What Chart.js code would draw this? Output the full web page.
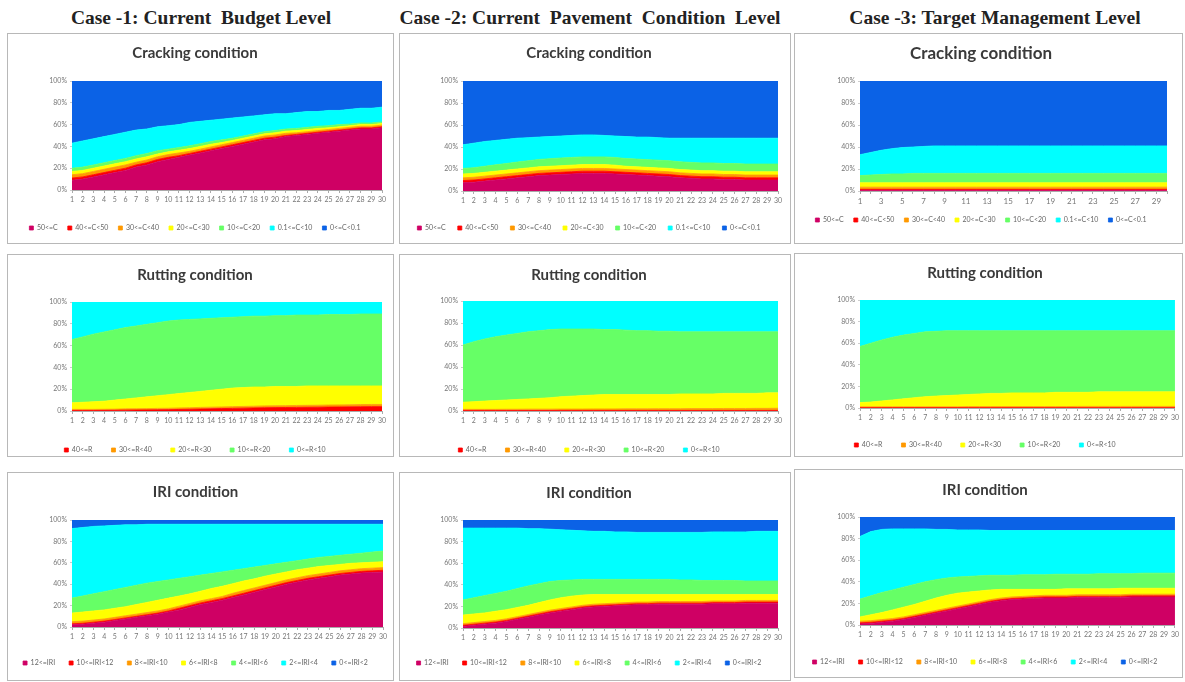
<!DOCTYPE html>
<html>
<head>
<meta charset="utf-8">
<script src="https://cdn.jsdelivr.net/npm/chart.js@4.4.1/dist/chart.umd.min.js"></script>
<style>
  body { margin: 0; width: 1185px; height: 682px; background: #fff; position: relative; overflow: hidden; }
  .head { position: absolute; top: 7px; line-height: 22px; font: bold 19.5px "Liberation Serif", "Times New Roman", serif; color: #222; white-space: pre; transform: translateX(-50%); }
  .panel { position: absolute; border: 1px solid #b8b8b8; box-sizing: border-box; }
  canvas { position: absolute; }
</style>
</head>
<body>
<div class="head" style="left:201px">Case -1: Current  Budget Level</div>
<div class="head" style="left:590px">Case -2: Current  Pavement  Condition  Level</div>
<div class="head" style="left:995px">Case -3: Target Management Level</div>
<script>
// x axis: year of analysis
const years = ['1','2','3','4','5','6','7','8','9','10','11','12','13','14','15','16','17','18','19','20','21','22','23','24','25','26','27','28','29','30'];

const crackNames = ['50<=C', '40<=C<50', '30<=C<40', '20<=C<30', '10<=C<20', '0.1<=C<10', '0<=C<0.1'];
const rutNames = ['40<=R', '30<=R<40', '20<=R<30', '10<=R<20', '0<=R<10'];
const iriNames = ['12<=IRI', '10<=IRI<12', '8<=IRI<10', '6<=IRI<8', '4<=IRI<6', '2<=IRI<4', '0<=IRI<2'];

// share of network (%) in each class, bottom class first
const crackCase1 = [
  [9,10,12,14,16,18,21,23,26,28,30,32,34,36,38,40,42,44,46,47,49,50,51,52,53,54,55,56,56,57],
  [2,2,2,2,2,2,2,2,2,2,1.5,1.5,1.5,1.5,1.5,1.5,1.5,1.5,1.5,1.5,1,1,1,1,1,1,1,1,1,1],
  [3,3,3,3,3,3,2.5,2.5,2.5,2.5,2.5,2,2,2,2,2,2,2,2,2,2,1.5,1.5,1.5,1.5,1.5,1.5,1.5,1.5,1.5],
  [3,3,3,3,3,3,3,3,2.5,2.5,2.5,2.5,2.5,2.5,2,2,2,2,2,2,2,2,2,2,1.5,1.5,1.5,1.5,1.5,1.5],
  [3,3,3,3,3,3,3,3,3,2.5,2.5,2.5,2.5,2.5,2.5,2,2,2,2,2,2,2,2,2,2,2,1.5,1.5,1.5,1.5],
  [23,24,24,24,24,24,23.5,22.5,22,21.5,21,21.5,20.5,19.5,19,18.5,17.5,16.5,15.5,15.5,14,14.5,14.5,13.5,14,13,13.5,13.5,13.5,13.5],
  [57,55,53,51,49,47,45,44,42,41,40,38,37,36,35,34,33,32,31,30,30,29,28,28,27,27,26,25,25,24]
];
const crackCase2 = [
  [7.5,8,9,10,11,12,13,14,14.5,15,15.5,16,16,16,15.5,15,14.5,14,13.5,13,12,11.5,11,11,10.5,10.5,10,10,10,10],
  [2,2,2,2,2,2,2,2,2,2,2,2,2,2,2,2,2,2,2,2,2,2,2,2,2,2,2,2,2,2],
  [2.5,2.5,2.5,2.5,2.5,2.5,2.5,2.5,2.5,2.5,2.5,2.5,2.5,2.5,2.5,2.5,2.5,2.5,2.5,2.5,2.5,2.5,2.5,2.5,2.5,2.5,2.5,2.5,2.5,2.5],
  [3.5,3.5,3.5,3.5,3.5,3.5,3.5,3.5,3.5,3.5,3.5,3.5,3.5,3.5,3.5,3,3,3,3,3,3,3,3,3,3,3,3,3,3,3],
  [5,5.2,5.5,5.8,6,6.3,6.5,6.7,6.9,7,7,7,7,7,7,7,7,7,7,7,7,7,7,7,7,7,7,7,7,7],
  [21.5,22.3,22.5,22.2,22,21.7,21,20.3,20.1,20,20,20,20,19.5,19.5,20,20,20.5,20.5,20.5,21.5,22,22.5,22.5,23,23,23.5,23.5,23.5,23.5],
  [58,56.5,55,54,53,52,51.5,51,50.5,50,49.5,49,49,49.5,50,50.5,51,51,51.5,52,52,52,52,52,52,52,52,52,52,52]
];
const crackCase3 = [
  [0.5,0.5,0.5,0.5,0.5,0.5,0.5,0.5,0.5,0.5,0.5,0.5,0.5,0.5,0.5,0.5,0.5,0.5,0.5,0.5,0.5,0.5,0.5,0.5,0.5,0.5,0.5,0.5,0.5,0.5],
  [1,1,1,1,1,1,1,1,1,1,1,1,1,1,1,1,1,1,1,1,1,1,1,1,1,1,1,1,1,1],
  [2,2,2,2,2,2,2,2,2,2,2,2,2,2,2,2,2,2,2,2,2,2,2,2,2,2,2,2,2,2],
  [4,4,4,4,4,4,4,4,4,4,4,4,4,4,4,4,4,4,4,4,4,4,4,4,4,4,4,4,4,4],
  [6.5,7,7.5,8,8,8.5,8.5,8.5,8.5,8.5,8.5,8.5,8.5,8.5,8.5,8.5,8.5,8.5,8.5,8.5,8.5,8.5,8.5,8.5,8.5,8.5,8.5,8.5,8.5,8.5],
  [19,20.5,22,23,24,24,24.5,25,25,25,25,25,25,25,25,25,25,25,25,25,25,25,25,25,25,25,25,25,25,25],
  [67,65,63,61.5,60.5,60,59.5,59,59,59,59,59,59,59,59,59,59,59,59,59,59,59,59,59,59,59,59,59,59,59]
];
const rutCase1 = [
  [0.5,0.5,0.5,0.6,0.7,0.8,0.9,1,1.1,1.2,1.4,1.6,1.8,2,2.2,2.4,2.6,2.8,3,3.1,3.2,3.3,3.4,3.5,3.6,3.7,3.8,3.9,4,4],
  [1,1,1,1,1,1.2,1.2,1.2,1.3,1.3,1.4,1.4,1.5,1.5,1.5,1.6,1.6,1.6,1.7,1.7,1.7,1.8,1.8,1.8,1.9,1.9,1.9,2,2,2],
  [6,6.5,7,7.4,8.3,9,9.9,10.8,11.6,12.5,13.2,14,14.7,15.5,16.3,17,17.3,17.6,17.3,17.7,17.6,17.4,17.8,17.7,17.5,17.4,17.3,17.1,17,17],
  [58,60,62,63.5,64.5,65.5,66,66.5,67,67.5,67.5,67,66.5,66,65.5,65,65,65,65,65,65,65.5,65,65,65.5,65.5,65.5,66,66,66],
  [34.5,32,29.5,27.5,25.5,23.5,22,20.5,19,17.5,16.5,16,15.5,15,14.5,14,13.5,13,13,12.5,12.5,12,12,12,11.5,11.5,11.5,11,11,11]
];
const rutCase2 = [
  [0.5,0.5,0.5,0.5,0.5,0.5,0.5,0.5,0.5,0.5,0.5,0.5,0.5,0.5,0.5,0.5,0.5,0.5,0.5,0.5,0.5,0.5,0.5,0.5,0.5,0.5,0.5,0.5,0.5,0.5],
  [1,1,1,1,1.1,1.1,1.2,1.2,1.2,1.3,1.3,1.3,1.4,1.4,1.4,1.5,1.5,1.5,1.6,1.6,1.6,1.7,1.7,1.7,1.8,1.8,1.8,1.9,1.9,2],
  [6.5,7,7.5,8,8.4,8.9,9.3,9.8,10.3,11.2,11.7,12.2,12.6,13.1,13.1,13,13,13,12.9,12.9,13.4,13.3,13.3,13.3,13.7,13.7,13.7,13.6,14.1,14],
  [52,54.5,56.5,58,59,60,61,61.5,62,61.5,61,60.5,60,59,59,58.5,58,58,57.5,57.5,56.5,56.5,56.5,56.5,56,56,56,56,55.5,55.5],
  [40,37,34.5,32.5,31,29.5,28,27,26,25.5,25.5,25.5,25.5,26,26,26.5,27,27,27.5,27.5,28,28,28,28,28,28,28,28,28,28]
];
const rutCase3 = [
  [0.3,0.3,0.3,0.3,0.3,0.3,0.3,0.3,0.3,0.3,0.3,0.3,0.3,0.3,0.3,0.3,0.3,0.3,0.3,0.3,0.3,0.3,0.3,0.3,0.3,0.3,0.3,0.3,0.3,0.3],
  [0.8,0.8,0.8,0.8,0.8,0.8,0.8,0.8,0.8,0.8,1,1,1,1,1,1,1,1,1,1,1.2,1.2,1.2,1.2,1.2,1.2,1.2,1.2,1.2,1.2],
  [3.9,4.4,5.4,6.4,7.4,8.4,9.4,9.9,10.4,10.9,11.2,11.7,12.2,12.2,12.7,12.7,12.7,12.7,13.2,13.2,13,13,13.5,13.5,13.5,13.5,13.5,13.5,13.5,13.5],
  [52,54.5,56.5,58,59,59.5,60,60,60,59.5,59,58.5,58,58,57.5,57.5,57.5,57.5,57,57,57,57,56.5,56.5,56.5,56.5,56.5,56.5,56.5,56.5],
  [43,40,37,34.5,32.5,31,29.5,29,28.5,28.5,28.5,28.5,28.5,28.5,28.5,28.5,28.5,28.5,28.5,28.5,28.5,28.5,28.5,28.5,28.5,28.5,28.5,28.5,28.5,28.5]
];
const iriCase1 = [
  [2,2.5,3.5,4.5,6,7.5,9,10.5,12,14,16,18.5,21,23,25,27.5,30,32.5,35,37.5,40,42,44,45.5,47,48.5,49.5,50.5,51,51.5],
  [1,1,1,1,1,1,1,1,1,1,1.5,1.5,1.5,1.5,1.5,1.5,1.5,1.5,1.5,1.5,1.5,1.5,1.5,1.5,1.5,1.5,1.5,1.5,1.5,1.5],
  [2,2,2,2,2,2,2,2,2,2,2,2,2,2,2,2.5,2.5,2.5,2.5,2.5,2.5,2.5,2.5,2.5,2.5,2.5,2.5,2.5,2.5,2.5],
  [8,8.5,8.5,8.5,8.5,8.5,9,9.5,10,10,9.5,9,9,9.5,9.5,9,9,8.5,8.5,8,7.5,7.5,7,7,6.5,6,6,5.5,5.5,5.5],
  [14,15,16,17,17.5,18,18,18,17.5,17,16.5,16,15,14,13.5,12.5,11.5,11,10,9.5,9,8.5,8.5,8.5,8.5,8.5,8.5,9,9.5,10],
  [65,64,63,61.5,60,58.5,56.5,55,53.5,52,50.5,49,47.5,46,44.5,43,41.5,40,38.5,37,35.5,34,32.5,31,30,29,28,27,26,25],
  [8,7,6,5.5,5,4.5,4.5,4,4,4,4,4,4,4,4,4,4,4,4,4,4,4,4,4,4,4,4,4,4,4]
];
const iriCase2 = [
  [1.5,2.5,3.5,4.5,6,8,10,12,14,15.5,17,18.5,19.5,20,20.5,21,21.5,21.5,22,22,22,22,22,22.5,22.5,22.5,23,23,23,23],
  [1,1,1,1,1,1,1,1,1,1,1,1,1,1,1,1,1,1,1,1,1,1,1,1,1,1,1,1,1,1],
  [1.5,1.5,1.5,1.5,1.5,1.5,1.5,1.5,1.5,1.5,1.5,1.5,1.5,1.5,1.5,1.5,1.5,1.5,1.5,1.5,1.5,1.5,1.5,1.5,1.5,1.5,1.5,1.5,1.5,1.5],
  [8,8,8,8.5,8.5,8.5,8.5,9,9.5,10,10,9.5,9,8.5,8,7.5,7,7,6.5,6.5,6.5,6.5,6.5,6,6,6,5.5,5.5,5.5,5.5],
  [14,15,16,16.5,17,17.5,18,17.5,17,16,15,14.5,14,14,14,14,14,14,14,14,13.5,13.5,13,13,13,13,12.5,12.5,12.5,12.5],
  [66.5,64.5,62.5,60.5,58.5,56,53,51,48.5,47,46,45,44.5,44.5,44,44,43.5,43.5,43.5,43.5,44,44,44.5,45,45,45,45.5,46,46,46],
  [7.5,7.5,7.5,7.5,7.5,7.5,8,8,8.5,9,9.5,10,10.5,10.5,11,11,11.5,11.5,11.5,11.5,11.5,11.5,11.5,11,11,11,11,10.5,10.5,10.5]
];
const iriCase3 = [
  [1,1.5,2.5,3.5,5,7,9,11,13,15,17,19,21,22.5,23.5,24,24.5,25,25,25,25.5,25.5,25.5,25.5,25.5,26,26,26,26,26],
  [1,1,1,1,1,1,1,1,1,1,1,1,1,1,1,1,1,1,1,1,1,1,1,1,1,1,1,1,1,1],
  [1.5,1.5,1.5,1.5,1.5,1.5,1.5,1.5,1.5,1.5,1.5,1.5,1.5,1.5,1.5,1.5,1.5,1.5,1.5,1.5,1.5,1.5,1.5,1.5,1.5,1.5,1.5,1.5,1.5,1.5],
  [4,5.5,6.5,8,9,9.5,10.5,11.5,12,12,11,10,9,8,7,6.5,6,5.5,5.5,6,5.5,5.5,5.5,5.5,6,5.5,5.5,5.5,5.5,5.5],
  [16.5,17.5,18.5,18.5,18.5,18.5,18,17,16,15,14.5,14,13.5,13,13,13.5,13.5,13.5,14,13.5,13.5,13.5,14,14,13.5,13.5,14,14,14,14],
  [58,59.5,58.5,56.5,54,51.5,49,46.5,45,43.5,43,42.5,41.5,41.5,41.5,41,41,41,40.5,40.5,40.5,40.5,40,40,40,40,39.5,39.5,39.5,39.5],
  [18,13.5,11.5,11,11,11,11,11.5,11.5,12,12,12,12.5,12.5,12.5,12.5,12.5,12.5,12.5,12.5,12.5,12.5,12.5,12.5,12.5,12.5,12.5,12.5,12.5,12.5]
];

const sevenColors = ['#cf0064', '#ff0000', '#ff9900', '#ffff00', '#66ff66', '#00ffff', '#0b62e6'];
const fiveColors = ['#ff0000', '#ff9900', '#ffff00', '#66ff66', '#00ffff'];

// excel style 100% stacked area: each year is scaled to its total
function toPercent(series) {
  const totals = years.map((_, i) => series.reduce((s, arr) => s + arr[i], 0));
  return series.map(arr => arr.map((v, i) => v / totals[i] * 100));
}

function makeChart(series, names, colors, title, g) {
  const [pl, pt, pw, ph] = g.panel;
  const box = document.createElement('div');
  box.className = 'panel';
  box.style.cssText = `left:${pl}px;top:${pt}px;width:${pw}px;height:${ph}px`;
  document.body.appendChild(box);

  const cx = pl + 1, cy = pt + 1, cw = pw - 2, ch = ph - 2 + 14;
  const cv = document.createElement('canvas');
  cv.width = cw; cv.height = ch;
  cv.style.left = cx + 'px'; cv.style.top = cy + 'px';
  document.body.appendChild(cv);

  const ts = g.titleSize, fs = 7, lp = g.lp;
  const [x1, y1, x2, y2] = g.plot;
  const titleTop = g.titleY - cy - ts * 0.6;
  const titleBottom = (y1 - cy) - titleTop - ts * 1.2;
  const yw = x1 - cx;
  const xh = g.legendY - y2 - lp - fs / 2;
  const legH = fs + lp + 10;
  const padBottom = (cy + ch) - y2 - xh - legH;
  const every = g.every || 1;
  const tickFs = g.tickSize || fs;

  const pct = toPercent(series);
  new Chart(cv, {
    type: 'line',
    data: {
      labels: years,
      datasets: pct.map((d, i) => ({
        label: names[i],
        data: d,
        backgroundColor: colors[i],
        borderColor: colors[i],
        borderWidth: 0.8,
        pointRadius: 0,
        tension: 0,
        fill: i === 0 ? 'origin' : '-1'
      }))
    },
    options: {
      responsive: false,
      animation: false,
      layout: { padding: { left: 0, top: 0, right: cx + cw - x2, bottom: padBottom } },
      plugins: {
        tooltip: { enabled: false },
        title: {
          display: true, text: title, color: '#3a3a3a',
          font: { family: 'Lato', size: ts, weight: 'bold' },
          padding: { top: titleTop, bottom: titleBottom }
        },
        legend: {
          position: 'bottom',
          labels: {
            usePointStyle: true, pointStyle: 'rect', boxWidth: 4, boxHeight: 4,
            padding: lp, color: '#666',
            font: { family: 'Lato', size: fs }
          }
        }
      },
      scales: {
        x: {
          afterFit: s => { s.height = xh; },
          grid: { drawOnChartArea: false, tickLength: 3, color: '#aaa' },
          border: { display: true, color: '#aaa' },
          ticks: {
            autoSkip: false, maxRotation: 0, minRotation: 0, padding: 3, color: '#777',
            font: { family: 'Lato', size: tickFs },
            callback: (v, i) => (i % every === 0 ? years[i] : '')
          }
        },
        y: {
          stacked: true, min: 0, max: 100,
          afterFit: s => { s.width = yw; },
          grid: { drawOnChartArea: false, tickLength: 2, color: '#ccc' },
          border: { display: false },
          ticks: {
            stepSize: 20, padding: 3, color: '#777',
            font: { family: 'Lato', size: fs },
            callback: v => v + '%'
          }
        }
      }
    }
  });
}

makeChart(crackCase1, crackNames, sevenColors, 'Cracking condition',
  { panel: [7, 33, 387, 211], plot: [72, 81, 382, 190], titleY: 53, legendY: 228, titleSize: 15, lp: 10 });
makeChart(crackCase2, crackNames, sevenColors, 'Cracking condition',
  { panel: [399, 33, 392, 211], plot: [463, 81, 778, 191], titleY: 53, legendY: 228, titleSize: 15, lp: 12 });
makeChart(crackCase3, crackNames, sevenColors, 'Cracking condition',
  { panel: [794, 33, 389, 211], plot: [860, 81, 1167, 191], titleY: 54, legendY: 220, titleSize: 17, tickSize: 8, every: 2, lp: 10 });

makeChart(rutCase1, rutNames, fiveColors, 'Rutting condition',
  { panel: [7, 254, 387, 203], plot: [72, 302, 382, 411], titleY: 275, legendY: 450, titleSize: 15, lp: 19 });
makeChart(rutCase2, rutNames, fiveColors, 'Rutting condition',
  { panel: [399, 254, 392, 203], plot: [463, 301, 778, 411], titleY: 275, legendY: 450, titleSize: 15, lp: 19 });
makeChart(rutCase3, rutNames, fiveColors, 'Rutting condition',
  { panel: [794, 253, 389, 204], plot: [860, 300, 1175, 408], titleY: 273, legendY: 445, titleSize: 15, lp: 19 });

makeChart(iriCase1, iriNames, sevenColors, 'IRI condition',
  { panel: [7, 472, 387, 209], plot: [72, 520, 383, 627], titleY: 492, legendY: 663, titleSize: 15, lp: 14 });
makeChart(iriCase2, iriNames, sevenColors, 'IRI condition',
  { panel: [399, 472, 392, 209], plot: [463, 520, 778, 628], titleY: 493, legendY: 663, titleSize: 15, lp: 14 });
makeChart(iriCase3, iriNames, sevenColors, 'IRI condition',
  { panel: [794, 469, 389, 209], plot: [860, 517, 1175, 625], titleY: 490, legendY: 662, titleSize: 15, lp: 14 });
</script>
</body>
</html>
